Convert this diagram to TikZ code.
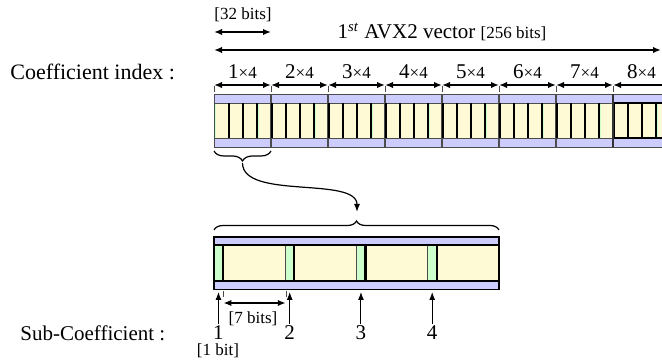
\documentclass[tikz,border=0pt]{standalone}
\usepackage{fontspec}
\setmainfont{Liberation Serif}
\usetikzlibrary{arrows.meta,decorations.pathreplacing}
\definecolor{cpurple}{RGB}{204,204,255}
\definecolor{cyellow}{RGB}{255,250,214}
\definecolor{cgreen}{RGB}{204,255,204}
\begin{document}
\begin{tikzpicture}[x=0.5pt,y=-0.5pt,
  lbl/.style={font=\fontsize{10.5}{12}\selectfont, inner sep=0pt},
  sml/.style={font=\fontsize{8.5}{10}\selectfont, inner sep=0pt},
  dimarrow/.style={{Latex[length=4pt,width=3.2pt]}-{Latex[length=4pt,width=3.2pt]}, line width=0.8pt},
  uparrow/.style={-{Latex[length=4pt,width=3pt]}, line width=0.5pt},
  tick/.style={densely dashed, line width=0.3pt, gray!60!black},
  outline/.style={draw=gray!60!black, line width=0.4pt},
  sep/.style={line width=1.1pt, black},
  brc/.style={decorate, decoration={brace, amplitude=5pt}, line width=0.6pt}]
\useasboundingbox (0,0) rectangle (662,362);
\clip (0,0) rectangle (662,362);

% ---------- top bar ----------
\fill[cpurple] (214,94) rectangle (680,103);
\fill[cyellow] (214,103) rectangle (680,138);
\fill[cpurple] (214,138) rectangle (680,147);
\foreach \k in {0,...,33} {
  \fill[cgreen] ({214+14.25*\k},103) rectangle ++(1.78,35);
}
\draw[outline] (214,94) rectangle (680,147);
\draw[outline] (214,103) -- (680,103);
\draw[outline] (214,138) -- (680,138);
\foreach \b in {1,...,8} {
  \draw[outline, line width=0.6pt] ({214+57*\b},94) -- ({214+57*\b},147);
}
\foreach \k in {1,...,33} {
  \draw[sep] ({214+14.25*\k+0.6},103) -- ({214+14.25*\k+0.6},138);
}
\draw[line width=1.1pt] (613,103) rectangle (690,138);
\draw[line width=0.9pt, gray!40!black] (613,94) -- (613,147);

% ---------- top labels ----------
\node[sml] (b32) at (243,15) {[32 bits]};
\coordinate (a32l) at (214,32);
\coordinate (a32r) at (271,32);
\draw[dimarrow] (a32l) -- (a32r);

\node[lbl] (avx) at (442,32) {1\textsuperscript{\textit{st}} AVX2 vector {\fontsize{8.5}{10}\selectfont[256 bits]}};
\coordinate (avl) at (214,50);
\coordinate (avr) at (661,50);
\draw[dimarrow] (avl) -- (avr);

\node[lbl, anchor=west, font=\fontsize{11}{12}\selectfont] (ci) at (10,72) {Coefficient index :};

\foreach \b in {0,...,7} {
  \pgfmathtruncatemacro\n{\b+1}
  \node[lbl] (c\n) at ({242.5+57*\b},72) {\n{\fontsize{8.5}{10}\selectfont ×4}};
  \coordinate (cl\n) at ({214+57*\b},85);
  \coordinate (cr\n) at ({271+57*\b},85);
  \draw[dimarrow] (cl\n) -- (cr\n);
}
\foreach \b in {0,...,8} {
  \draw[tick] ({214+57*\b},86) -- ({214+57*\b},94);
}

% ---------- braces and curve ----------
\draw[brc] (271,151) -- (214,151);
\coordinate (t1) at (242.5,163);
\coordinate (t2) at (357,212);
\draw[-{Latex[length=4pt,width=3pt]}, line width=0.6pt] (t1) .. controls (242.5,200) and (357,176) .. (t2);
\draw[brc, decoration={amplitude=4.5pt}] (214,230) -- (499,230);

% ---------- bottom bar ----------
\fill[cpurple] (214,237) rectangle (499,245.5);
\fill[cyellow] (214,245.5) rectangle (499,281);
\fill[cpurple] (214,281) rectangle (499,289.5);
\foreach \k in {0,...,3} {
  \fill[cgreen] ({214+71.25*\k},245.5) rectangle ++(8.9,35.5);
  \draw[sep] ({214+71.25*\k+8.9},245.5) -- ({214+71.25*\k+8.9},281);
}
\foreach \k in {1,...,3} {
  \draw[outline, line width=0.6pt] ({214+71.25*\k},245.5) -- ({214+71.25*\k},281);
}
\draw[line width=0.8pt] (214,237) rectangle (499,289.5);
\draw[line width=1pt] (214,245.5) -- (499,245.5);
\draw[line width=1pt] (214,281) -- (499,281);

% ---------- bottom labels ----------
\node[lbl, anchor=west] (sc) at (20,333) {Sub-Coefficient :};
\foreach \k in {1,...,4} {
  \node[lbl] (n\k) at ({214+71.25*(\k-1)+4.45},332.5) {\k};
  \coordinate (s\k) at ({214+71.25*(\k-1)+4.45},292);
  \draw[uparrow] (n\k.north) ++(0,-1) -- (s\k);
}
\node[sml] (onebit) at (218,351) {[1 bit]};
\node[sml] (sevenbit) at (253,319) {[7 bits]};
\coordinate (sbl) at (223.4,303);
\coordinate (sbr) at (285.8,303);
\draw[dimarrow] (sbl) -- (sbr);
\draw[tick] (223.4,291) -- (223.4,298);
\draw[tick] (285.8,291) -- (285.8,298);
\end{tikzpicture}
\end{document}
